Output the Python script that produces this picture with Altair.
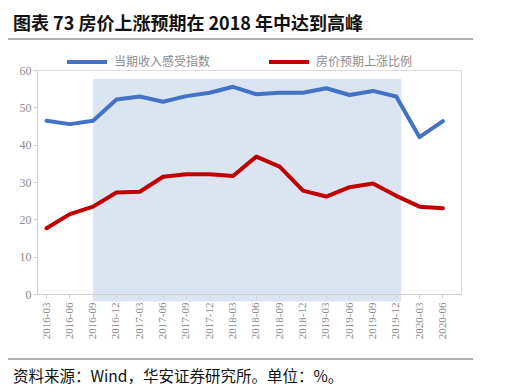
import altair as alt
import pandas as pd

dates = ["2016-03", "2016-06", "2016-09", "2016-12", "2017-03", "2017-06",
         "2017-09", "2017-12", "2018-03", "2018-06", "2018-09", "2018-12",
         "2019-03", "2019-06", "2019-09", "2019-12", "2020-03", "2020-06"]
income_index = [46.4, 45.5, 46.4, 52.1, 52.9, 51.5, 53.0, 53.9, 55.5, 53.5,
                53.9, 53.9, 55.1, 53.3, 54.4, 52.9, 42.0, 46.3]
price_up_ratio = [17.6, 21.4, 23.4, 27.2, 27.4, 31.4, 32.1, 32.1, 31.6, 36.8,
                  34.1, 27.7, 26.1, 28.6, 29.6, 26.3, 23.4, 23.0]
series_names = ["当期收入感受指数", "房价预期上涨比例"]
series_colors = ["#4472c4", "#c00000"]
y_ticks = [0, 10, 20, 30, 40, 50, 60]
shade_start = ["2016-09"]
shade_end = ["2019-12"]
shade_top = [57.6]
shade_bottom = [-2.0]
title_text = "图表 73 房价上涨预期在 2018 年中达到高峰"
source_text = "资料来源：Wind，华安证券研究所。单位：%。"

rows = []
for d, a, b in zip(dates, income_index, price_up_ratio):
    rows.append({"date": d, "series": series_names[0], "value": a})
    rows.append({"date": d, "series": series_names[1], "value": b})
df = pd.DataFrame(rows)
shade_df = pd.DataFrame({"start": shade_start, "end": shade_end,
                         "top": shade_top, "bottom": shade_bottom})

xscale = alt.Scale(domain=dates, padding=0.185, align=0)
yscale = alt.Scale(domain=[0, 60], nice=False)

x_axis = alt.Axis(labelAngle=270, labelFont="Liberation Serif", labelFontSize=11,
                  labelColor="#8c8c8c", domainColor="#d0d0d0", tickColor="#d0d0d0",
                  tickSize=4, labelPadding=4, labelBaseline="middle", labelAlign="right",
                  grid=False, title=None)
y_axis = alt.Axis(values=y_ticks, grid=False, labelOverlap=False,
                  labelFont="Liberation Serif", labelFontSize=12,
                  labelColor="#8c8c8c", domainColor="#d0d0d0", tickColor="#d0d0d0",
                  tickSize=4, labelPadding=2, title=None)

shade = alt.Chart(shade_df).mark_rect(color="#dbe5f1", x2Offset=5).encode(
    x=alt.X("start:O", scale=xscale, sort=dates, axis=x_axis, title=None),
    x2="end",
    y=alt.Y("top:Q", scale=yscale, axis=y_axis, title=None),
    y2="bottom",
)

lines = alt.Chart(df).mark_line(strokeWidth=4, strokeJoin="round", strokeCap="round").encode(
    x=alt.X("date:O", scale=xscale, sort=dates, axis=x_axis, title=None),
    y=alt.Y("value:Q", scale=yscale, axis=y_axis, title=None),
    color=alt.Color("series:N", scale=alt.Scale(domain=series_names, range=series_colors),
                    sort=series_names,
                    legend=alt.Legend(title=None, orient="none", legendX=28, legendY=-30,
                                      direction="horizontal", symbolType="stroke",
                                      symbolSize=1600, symbolStrokeWidth=4,
                                      labelFont="Noto Sans CJK SC", labelFontSize=12,
                                      labelColor="#8c8c8c", labelOffset=5, columnPadding=50)),
)

title_df = pd.DataFrame({"t": [title_text]})
title = alt.Chart(title_df).mark_text(align="left", baseline="middle", font="Noto Sans CJK SC",
                                      fontSize=18, fontWeight="bold", color="#111111").encode(
    text="t:N", x=alt.value(-24), y=alt.value(-45))

source_df = pd.DataFrame({"t": [source_text]})
source = alt.Chart(source_df).mark_text(align="left", baseline="middle", font="Noto Sans CJK SC",
                                        fontSize=15.5, color="#111111").encode(
    text="t:N", x=alt.value(-24), y=alt.value(307))

rule_df = pd.DataFrame({"k": [1]})
top_rule = alt.Chart(rule_df).mark_rule(color="#9a9a9a", strokeWidth=1.5).encode(
    x=alt.value(-29), x2=alt.value(436), y=alt.value(-31))
bottom_rule = alt.Chart(rule_df).mark_rule(color="#9a9a9a", strokeWidth=1.5).encode(
    x=alt.value(-29), x2=alt.value(436), y=alt.value(289))

chart = alt.layer(shade, lines, title, source, top_rule, bottom_rule).properties(
    width=424, height=224,
    autosize=alt.AutoSizeParams(type="none"),
    padding={"left": 29, "top": 62, "right": 46, "bottom": 95},
).configure_view(strokeOpacity=0, strokeWidth=0).configure(background="white")

chart.save("out.html", embed_options={"renderer": "svg", "actions": False})
